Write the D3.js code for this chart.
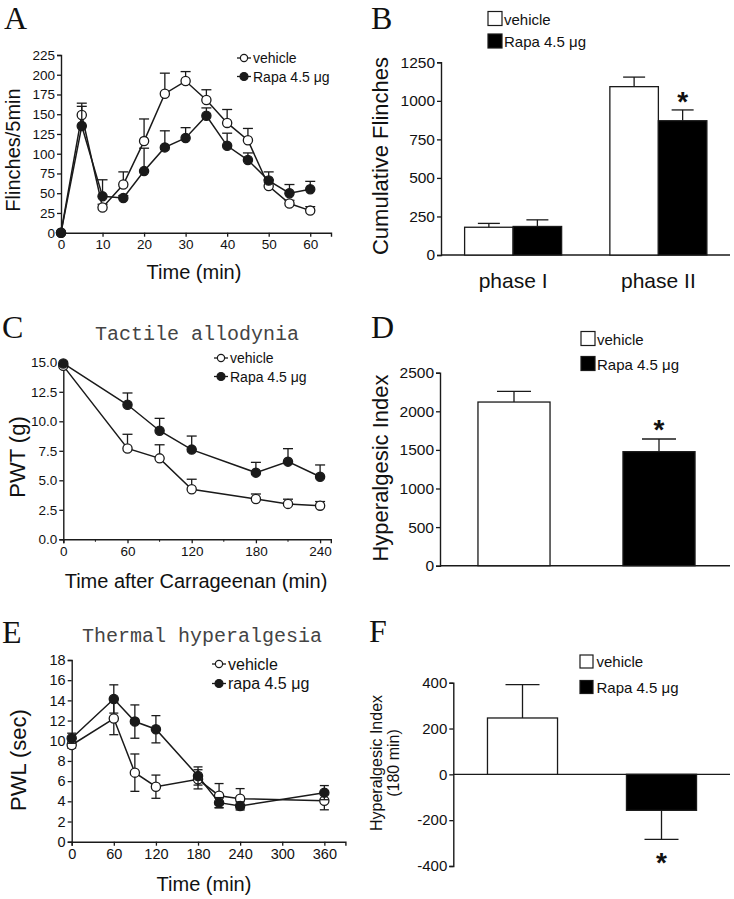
<!DOCTYPE html>
<html><head><meta charset="utf-8">
<script src="https://cdn.jsdelivr.net/npm/d3@7"></script>
<style>
body{margin:0;background:#fff}
svg{display:block}
</style>
</head><body>
<svg id="chart" width="734" height="899" font-family="'Liberation Sans',Arial,Helvetica,sans-serif"></svg>
<script>
// ---------- Panel A: flinches per 5 min ----------
const aTime = [0,5,10,15,20,25,30,35,40,45,50,55,60];
const aVehicle = [0,149,32,61,116,176,192,168,139,117,59,37,28];
const aVehicleErr = [0,15,4,16,28,26,12,13,17,15,8,4,5];
const aRapa = [0,135,46,44,78,108,120,148,110,92,66,50,55];
const aRapaErr = [0,25,21,3,29,21,13,10,16,9,11,11,10];
const aYTicks = [0,25,50,75,100,125,150,175,200,225];
const aXTicks = [0,10,20,30,40,50,60];

// ---------- Panel B: cumulative flinches ----------
const bPhases = ["phase I","phase II"];
const bVehicle = [180,1092];
const bVehicleErr = [25,62];
const bRapa = [185,871];
const bRapaErr = [43,70];
const bYTicks = [0,250,500,750,1000,1250];

// ---------- Panel C: tactile allodynia ----------
const cTime = [0,60,90,120,180,210,240];
const cVehicle = [14.7,7.7,6.86,4.24,3.42,3.0,2.85];
const cVehicleErr = [0,1.2,1.15,0.85,0.42,0.4,0.35];
const cRapa = [14.9,11.4,9.2,7.6,5.65,6.58,5.3];
const cRapaErr = [0,1.0,1.05,1.15,0.87,1.1,1.0];
const cYTicks = [0,2.5,5,7.5,10,12.5,15];
const cXTicks = [0,60,120,180,240];

// ---------- Panel D: hyperalgesic index ----------
const dGroups = ["vehicle","Rapa 4.5 μg"];
const dValues = [2120,1477];
const dErr = [137,164];
const dYTicks = [0,500,1000,1500,2000,2500];

// ---------- Panel E: thermal hyperalgesia ----------
const eTime = [0,60,90,120,180,210,240,360];
const eVehicle = [9.58,12.2,6.84,5.45,6.18,4.56,4.26,4.06];
const eVehicleErr = [0.3,1.6,1.85,1.15,0.95,1.2,1.0,0.9];
const eRapa = [10.25,14.14,11.9,11.14,6.51,3.87,3.54,4.86];
const eRapaErr = [0.5,1.4,1.65,1.35,0.9,0.5,0.4,0.7];
const eYTicks = [0,2,4,6,8,10,12,14,16,18];
const eXTicks = [0,60,120,180,240,300,360];

// ---------- Panel F: hyperalgesic index (180 min) ----------
const fGroups = ["vehicle","Rapa 4.5 μg"];
const fValues = [246,-157];
const fErr = [146,127];
const fYTicks = [-400,-200,0,200,400];

const SANS = "'Liberation Sans',Arial,Helvetica,sans-serif";
const SERIF = "'Liberation Serif','Times New Roman',serif";
const MONO = "'Liberation Mono','Courier New',monospace";
const plainFmt = d => String(d);

const svg = d3.select("#chart");
svg.append("rect").attr("width",734).attr("height",899).attr("fill","#fff");
const INK = "#1a1a1a";

function styleAxis(g, fs){
  g.attr("font-family",null);
  g.selectAll("path.domain").attr("stroke",INK).attr("stroke-width",1.4);
  g.selectAll(".tick line").attr("stroke",INK).attr("stroke-width",1.3);
  g.selectAll(".tick text").attr("fill","#111").style("font-size",fs+"px").style("font-family",SANS);
}
function panelLetter(t,x,y){
  svg.append("text").text(t).attr("x",x).attr("y",y)
    .style("font-family",SERIF).style("font-size","32px").attr("fill","#111");
}
function yLabel(lines,x,y,fs){
  const t = svg.append("text").attr("transform",`translate(${x},${y}) rotate(-90)`)
    .attr("text-anchor","middle").style("font-size",fs+"px").style("font-family",SANS).attr("fill","#111");
  lines.forEach((l,i)=>t.append("tspan").attr("x",0).attr("dy",i===0?0:fs*1.05).text(l));
  return t;
}
function label(t,x,y,fs){
  return svg.append("text").text(t).attr("x",x).attr("y",y).attr("text-anchor","middle")
    .style("font-size",fs+"px").style("font-family",SANS).attr("fill","#111");
}
function monoTitle(t,x,y){
  svg.append("text").text(t).attr("x",x).attr("y",y)
    .style("font-family",MONO).style("font-size","20px").attr("fill","#444");
}

// generic line panel
function linePanel(o){
  const x = d3.scaleLinear().domain(o.xDomain).range(o.xRange);
  const y = d3.scaleLinear().domain(o.yDomain).range(o.yRange);
  const g = svg.append("g");
  const ax = g.append("g").attr("transform",`translate(0,${o.yRange[0]})`)
    .call(d3.axisBottom(x).tickValues(o.xTicks).tickSize(4).tickPadding(3).tickFormat(plainFmt));
  styleAxis(ax,o.tickFs);
  if(o.minor){
    g.append("g").selectAll("line").data(o.minor).join("line")
      .attr("x1",d=>x(d)).attr("x2",d=>x(d)).attr("y1",o.yRange[0]).attr("y2",o.yRange[0]+2.5)
      .attr("stroke",INK).attr("stroke-width",1);
  }
  const ay = g.append("g").attr("transform",`translate(${o.xRange[0]},0)`)
    .call(d3.axisLeft(y).tickValues(o.yTicks).tickSize(4).tickPadding(2).tickFormat(o.yFormat));
  styleAxis(ay,o.tickFs);

  o.series.forEach(s=>{
    const pts = o.time.map((t,i)=>({t,v:s.values[i],e:s.err[i]}));
    const eg = g.append("g").attr("stroke",INK).attr("stroke-width",1.3);
    pts.filter(p=>p.e>0).forEach(p=>{
      const top = y(p.v+p.e), bot = o.twoSided ? y(p.v-p.e) : y(p.v);
      eg.append("line").attr("x1",x(p.t)).attr("x2",x(p.t)).attr("y1",top).attr("y2",bot);
      eg.append("line").attr("x1",x(p.t)-o.cap).attr("x2",x(p.t)+o.cap).attr("y1",top).attr("y2",top);
      if(o.twoSided) eg.append("line").attr("x1",x(p.t)-o.cap).attr("x2",x(p.t)+o.cap).attr("y1",bot).attr("y2",bot);
    });
    g.append("path").datum(pts)
      .attr("d",d3.line().x(p=>x(p.t)).y(p=>y(p.v)))
      .attr("fill","none").attr("stroke",INK).attr("stroke-width",1.5);
    g.append("g").selectAll("circle").data(pts).join("circle")
      .attr("cx",p=>x(p.t)).attr("cy",p=>y(p.v)).attr("r",o.r)
      .attr("fill",s.filled?INK:"#fff").attr("stroke",INK).attr("stroke-width",1.3);
  });
  o.series.forEach((s,i)=>{
    const ly = o.legend.y + i*o.legend.dy;
    g.append("line").attr("x1",o.legend.x).attr("x2",o.legend.x+14).attr("y1",ly).attr("y2",ly)
      .attr("stroke",INK).attr("stroke-width",1.3);
    g.append("circle").attr("cx",o.legend.x+7).attr("cy",ly).attr("r",s.filled?4:3.6)
      .attr("fill",s.filled?INK:"#fff").attr("stroke",INK).attr("stroke-width",1.2);
    g.append("text").text(s.name).attr("x",o.legend.x+16).attr("y",ly+o.legend.fs*0.36)
      .style("font-size",o.legend.fs+"px").style("font-family",SANS).attr("fill","#111");
  });
}

// generic bar panel
function barPanel(o){
  const y = d3.scaleLinear().domain(o.yDomain).range(o.yRange);
  const g = svg.append("g");
  const ay = g.append("g").attr("transform",`translate(${o.axisX},0)`)
    .call(d3.axisLeft(y).tickValues(o.yTicks).tickSize(4).tickPadding(2).tickFormat(plainFmt));
  styleAxis(ay,o.tickFs);
  g.append("line").attr("x1",o.axisX).attr("x2",o.axisEnd).attr("y1",y(0)).attr("y2",y(0))
    .attr("stroke",INK).attr("stroke-width",1.4);
  o.bars.forEach(b=>{
    const y0 = y(0), yv = y(b.value);
    const sign = b.value>=0?1:-1;
    const ye = y(b.value + sign*b.err);
    const cx = b.x + b.w/2;
    g.append("line").attr("x1",cx).attr("x2",cx).attr("y1",yv).attr("y2",ye).attr("stroke",INK).attr("stroke-width",1.3);
    g.append("line").attr("x1",cx-o.cap).attr("x2",cx+o.cap).attr("y1",ye).attr("y2",ye).attr("stroke",INK).attr("stroke-width",1.3);
    g.append("rect").attr("x",b.x).attr("width",b.w)
      .attr("y",Math.min(y0,yv)).attr("height",Math.abs(y0-yv))
      .attr("fill",b.filled?"#000":"#fff").attr("stroke",INK).attr("stroke-width",1.3);
    if(b.star!=null){
      g.append("text").text("*").attr("x",cx).attr("y",b.star).attr("text-anchor","middle")
        .style("font-size","28px").style("font-weight","bold").style("font-family",SANS).attr("fill","#111");
    }
  });
  o.legendItems.forEach((name,i)=>{
    const ly = o.legend.y + i*o.legend.dy;
    g.append("rect").attr("x",o.legend.x).attr("y",ly).attr("width",o.legend.box).attr("height",o.legend.box)
      .attr("fill",i===0?"#fff":"#000").attr("stroke",INK).attr("stroke-width",1.2);
    g.append("text").text(name).attr("x",o.legend.x+o.legend.box+o.legend.gap).attr("y",ly+o.legend.box-1)
      .style("font-size",o.legend.fs+"px").style("font-family",SANS).attr("fill","#111");
  });
}

// ===== Panel A =====
panelLetter("A",4,29);
linePanel({
  time:aTime, xDomain:[0,65], xRange:[61,331], yDomain:[0,225], yRange:[232.7,55],
  xTicks:aXTicks, yTicks:aYTicks, yFormat:plainFmt, tickFs:13.5, r:4.6, cap:5,
  series:[{name:"vehicle",values:aVehicle,err:aVehicleErr,filled:false},
          {name:"Rapa 4.5 μg",values:aRapa,err:aRapaErr,filled:true}],
  legend:{x:237,y:58,dy:18.5,fs:14}
});
yLabel(["Flinches/5min"],20,150,20);
label("Time (min)",194,279,20);

// ===== Panel B =====
panelLetter("B",371,29);
{
  const yy = d3.scaleLinear().domain([0,1250]).range([255,62.3]);
  const band = d3.scaleBand().domain(bPhases).range([440.5,731]).paddingInner(0.332).paddingOuter(0.166);
  const sub = d3.scaleBand().domain(["vehicle","rapa"]).range([0,band.bandwidth()]);
  const bars = [];
  bPhases.forEach((p,i)=>{
    bars.push({x:band(p)+sub("vehicle"),w:sub.bandwidth(),value:bVehicle[i],err:bVehicleErr[i],filled:false});
    bars.push({x:band(p)+sub("rapa"),w:sub.bandwidth(),value:bRapa[i],err:bRapaErr[i],filled:true,
               star:i===1?yy(bRapa[i]+bRapaErr[i])+1:null});
  });
  barPanel({yDomain:[0,1250],yRange:[255,62.3],yTicks:bYTicks,axisX:441,axisEnd:730,tickFs:15.5,cap:11,
    bars, legendItems:["vehicle","Rapa 4.5 μg"], legend:{x:488,y:11.5,dy:22.5,box:14,gap:2,fs:15}});
  bPhases.forEach(p=>label(p,band(p)+band.bandwidth()/2,288,21));
}
yLabel(["Cumulative Flinches"],388,156,22);

// ===== Panel C =====
panelLetter("C",2,338);
monoTitle("Tactile allodynia",95,340);
linePanel({
  time:cTime, xDomain:[0,250], xRange:[63.3,330.8], yDomain:[0,15], yRange:[539.3,362.3],
  xTicks:cXTicks, yTicks:cYTicks, yFormat:d3.format(".1f"), tickFs:13.5, r:4.6, cap:5,
  minor:[30,90,150,210],
  series:[{name:"vehicle",values:cVehicle,err:cVehicleErr,filled:false},
          {name:"Rapa 4.5 μg",values:cRapa,err:cRapaErr,filled:true}],
  legend:{x:214,y:358,dy:18.5,fs:14}
});
yLabel(["PWT (g)"],25,457,22);
label("Time after Carrageenan (min)",196,588,20);

// ===== Panel D =====
panelLetter("D",371,338);
{
  const band = d3.scaleBand().domain(dGroups).range([441.5,731.5]).paddingInner(0.503).paddingOuter(0.2515);
  const yy = d3.scaleLinear().domain([0,2500]).range([565.7,372.7]);
  const bars = dGroups.map((gname,i)=>({x:band(gname),w:band.bandwidth(),value:dValues[i],err:dErr[i],
    filled:i===1, star:i===1?yy(dValues[i]+dErr[i]):null}));
  barPanel({yDomain:[0,2500],yRange:[565.7,372.7],yTicks:dYTicks,axisX:440,axisEnd:730,tickFs:15.5,cap:17,
    bars, legendItems:dGroups, legend:{x:581,y:331.5,dy:25,box:14,gap:2,fs:15}});
}
yLabel(["Hyperalgesic Index"],388,468,22);

// ===== Panel E =====
panelLetter("E",2,643);
monoTitle("Thermal hyperalgesia",82,642);
linePanel({
  time:eTime, xDomain:[0,390], xRange:[71.7,345.4], yDomain:[0,18], yRange:[841.7,660],
  xTicks:eXTicks, yTicks:eYTicks, yFormat:plainFmt, tickFs:14.5, r:4.6, cap:4.5, twoSided:true,
  series:[{name:"vehicle",values:eVehicle,err:eVehicleErr,filled:false},
          {name:"rapa 4.5 μg",values:eRapa,err:eRapaErr,filled:true}],
  legend:{x:212,y:664,dy:19.5,fs:16}
});
yLabel(["PWL (sec)"],26,760,22);
label("Time (min)",204,891,20);

// ===== Panel F =====
panelLetter("F",369,642);
{
  const band = d3.scaleBand().domain(fGroups).range([453,731]).paddingInner(0.496).paddingOuter(0.248);
  const yy = d3.scaleLinear().domain([-400,400]).range([866,682.7]);
  const bars = fGroups.map((gname,i)=>({x:band(gname),w:band.bandwidth(),value:fValues[i],err:fErr[i],
    filled:i===1, star:i===1?yy(fValues[i]-fErr[i])+33:null}));
  barPanel({yDomain:[-400,400],yRange:[866,682.7],yTicks:fYTicks,axisX:453.3,axisEnd:730,tickFs:15,cap:17,
    bars, legendItems:fGroups, legend:{x:580,y:655,dy:25.5,box:13,gap:3.5,fs:15}});
}
yLabel(["Hyperalgesic Index","(180 min)"],382,763,16);
</script>
</body></html>
